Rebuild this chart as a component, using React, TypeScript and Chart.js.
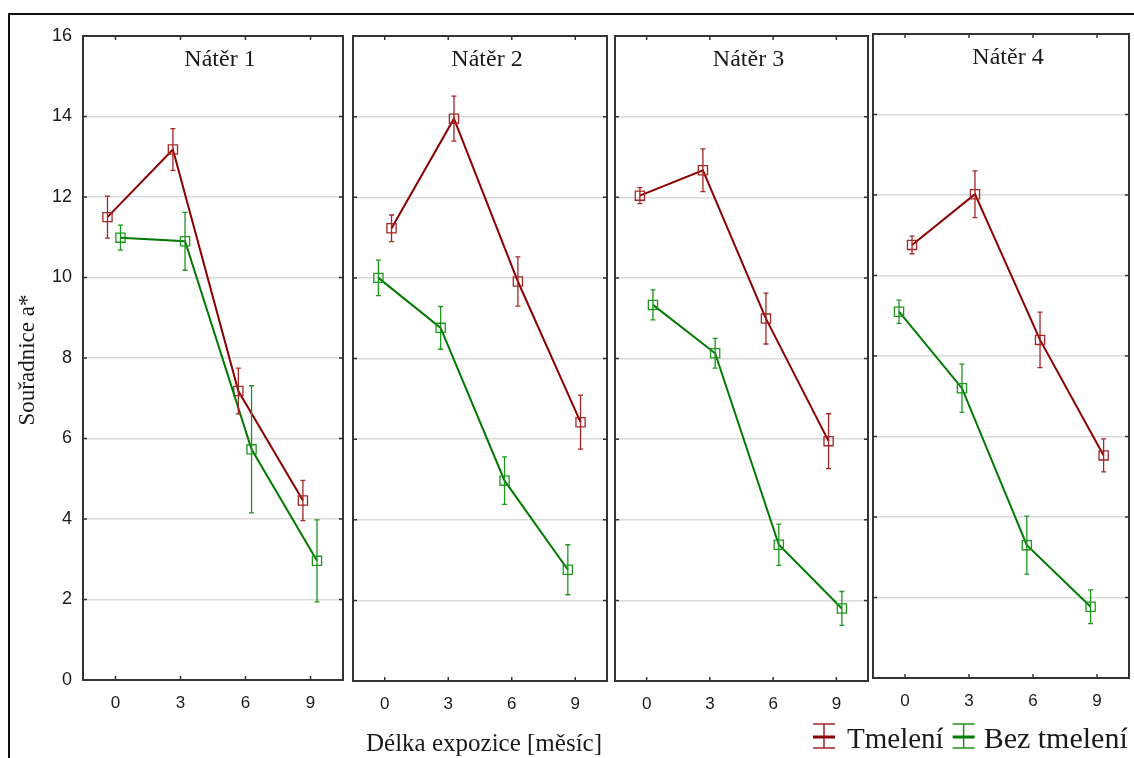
import React, { useEffect, useRef } from 'react';
import { Chart, registerables } from 'chart.js';

Chart.register(...registerables);

// ---------- data ----------
const months = [0, 3, 6, 9];
const yTickValues = [0, 2, 4, 6, 8, 10, 12, 14, 16];
const panelTitles = ['Nátěr 1', 'Nátěr 2', 'Nátěr 3', 'Nátěr 4'];
const seriesNames = ['Tmelení', 'Bez tmelení'];
const yAxisTitle = 'Souřadnice a*';
const xAxisTitle = 'Délka expozice [měsíc]';

// Nátěr 1
const tmelX1 = [-0.37, 2.65, 5.67, 8.65];
const tmelY1 = [11.5, 13.18, 7.18, 4.46];
const tmelErr1 = [0.52, 0.52, 0.57, 0.5];
const bezX1 = [0.23, 3.21, 6.28, 9.3];
const bezY1 = [10.99, 10.9, 5.73, 2.96];
const bezErr1 = [0.31, 0.72, 1.58, 1.02];

// Nátěr 2
const tmelX2 = [0.32, 3.27, 6.29, 9.25];
const tmelY2 = [11.23, 13.95, 9.91, 6.42];
const tmelErr2 = [0.33, 0.56, 0.61, 0.67];
const bezX2 = [-0.3, 2.64, 5.66, 8.65];
const bezY2 = [10.0, 8.76, 4.97, 2.76];
const bezErr2 = [0.44, 0.53, 0.59, 0.62];

// Nátěr 3
const tmelX3 = [-0.32, 2.67, 5.66, 8.63];
const tmelY3 = [12.04, 12.67, 8.99, 5.95];
const tmelErr3 = [0.2, 0.53, 0.63, 0.68];
const bezX3 = [0.3, 3.25, 6.27, 9.26];
const bezY3 = [9.33, 8.13, 3.38, 1.8];
const bezErr3 = [0.37, 0.37, 0.51, 0.42];

// Nátěr 4
const tmelX4 = [0.33, 3.28, 6.33, 9.31];
const tmelY4 = [10.76, 12.02, 8.4, 5.53];
const tmelErr4 = [0.22, 0.58, 0.69, 0.41];
const bezX4 = [-0.28, 2.67, 5.71, 8.7];
const bezY4 = [9.1, 7.2, 3.3, 1.77];
const bezErr4 = [0.29, 0.6, 0.72, 0.42];

const panels = [
  { tX: tmelX1, tY: tmelY1, tE: tmelErr1, bX: bezX1, bY: bezY1, bE: bezErr1 },
  { tX: tmelX2, tY: tmelY2, tE: tmelErr2, bX: bezX2, bY: bezY2, bE: bezErr2 },
  { tX: tmelX3, tY: tmelY3, tE: tmelErr3, bX: bezX3, bY: bezY3, bE: bezErr3 },
  { tX: tmelX4, tY: tmelY4, tE: tmelErr4, bX: bezX4, bY: bezY4, bE: bezErr4 },
];

// ---------- layout / style ----------
const W = 1134;
const H = 758;
const CW = W + 60; // canvas wider than the page, clipped by the container
const boxes = [
  { left: 83, right: 343, top: 36, bottom: 680 },
  { left: 353, right: 607, top: 36, bottom: 681 },
  { left: 615, right: 868, top: 36, bottom: 681 },
  { left: 873, right: 1129, top: 34, bottom: 678 },
];
const RED_LINE = '#8b0000';
const RED_MARK = '#a52626';
const GREEN_LINE = '#007a00';
const GREEN_MARK = '#1e961e';
const AXIS = '#333333';
const TEXT = '#1a1a1a';
const SERIF = '"Liberation Serif", "Times New Roman", serif';
const SANS = '"Liberation Sans", Arial, sans-serif';

const errorBarPlugin = {
  id: 'errorBars',
  afterDatasetsDraw(chart: any) {
    const ctx = chart.ctx;
    const yScale = chart.scales.y;
    chart.data.datasets.forEach((ds: any, di: number) => {
      const meta = chart.getDatasetMeta(di);
      ctx.save();
      ctx.strokeStyle = ds.errColor;
      ctx.lineWidth = 1.3;
      meta.data.forEach((pt: any, i: number) => {
        const v = ds.data[i].y;
        const e = ds.errors[i];
        const yTop = yScale.getPixelForValue(v + e);
        const yBot = yScale.getPixelForValue(v - e);
        const x = pt.x;
        ctx.beginPath();
        ctx.moveTo(x, yTop);
        ctx.lineTo(x, yBot);
        ctx.moveTo(x - 2.5, yTop);
        ctx.lineTo(x + 2.5, yTop);
        ctx.moveTo(x - 2.5, yBot);
        ctx.lineTo(x + 2.5, yBot);
        ctx.stroke();
      });
      ctx.restore();
    });
  },
};

const framePlugin = {
  id: 'panelFrame',
  afterDraw(chart: any, _args: any, opts: any) {
    const ctx = chart.ctx;
    const { left, right, top, bottom } = chart.chartArea;
    const xs = chart.scales.x;
    const ys = chart.scales.y;
    ctx.save();
    ctx.strokeStyle = AXIS;
    ctx.lineWidth = 2;
    ctx.strokeRect(left, top, right - left, bottom - top);
    ctx.lineWidth = 1.5;
    ctx.beginPath();
    ys.ticks.forEach((t: any) => {
      if (t.value <= ys.min || t.value >= ys.max) return;
      const y = ys.getPixelForValue(t.value);
      ctx.moveTo(left, y);
      ctx.lineTo(left + 4, y);
      ctx.moveTo(right, y);
      ctx.lineTo(right - 4, y);
    });
    xs.ticks.forEach((t: any) => {
      const x = xs.getPixelForValue(t.value);
      ctx.moveTo(x, bottom);
      ctx.lineTo(x, bottom - 4);
      ctx.moveTo(x, top);
      ctx.lineTo(x, top + 4);
    });
    ctx.stroke();
    // panel title
    ctx.fillStyle = TEXT;
    ctx.font = `24px ${SERIF}`;
    ctx.textAlign = 'center';
    ctx.textBaseline = 'middle';
    ctx.fillText(opts.title, (left + right) / 2 + 7, top + 24);

    if (opts.yTitle) {
      ctx.save();
      ctx.translate(28, 360);
      ctx.rotate(-Math.PI / 2);
      ctx.font = `23px ${SERIF}`;
      ctx.fillText(opts.yTitle, 0, 0);
      ctx.restore();
      ctx.font = `25px ${SERIF}`;
      ctx.fillText(xAxisTitle, 484, 744);
    }
    if (opts.legend) {
      const drawIcon = (cx: number, cMark: string, cLine: string) => {
        ctx.strokeStyle = cMark;
        ctx.lineWidth = 1.5;
        ctx.beginPath();
        ctx.moveTo(cx - 11, 724);
        ctx.lineTo(cx + 11, 724);
        ctx.moveTo(cx - 11, 748);
        ctx.lineTo(cx + 11, 748);
        ctx.moveTo(cx, 724);
        ctx.lineTo(cx, 748);
        ctx.stroke();
        ctx.strokeStyle = cLine;
        ctx.lineWidth = 3;
        ctx.beginPath();
        ctx.moveTo(cx - 11, 737);
        ctx.lineTo(cx + 11, 737);
        ctx.stroke();
      };
      ctx.font = `29px ${SERIF}`;
      ctx.textAlign = 'left';
      ctx.fillStyle = TEXT;
      let x = 813;
      drawIcon(x + 11, RED_MARK, RED_LINE);
      x += 34;
      ctx.fillText(seriesNames[0], x, 740);
      x += ctx.measureText(seriesNames[0]).width + 9;
      drawIcon(x + 11, GREEN_MARK, GREEN_LINE);
      x += 31;
      ctx.fillStyle = TEXT;
      ctx.font = `30px ${SERIF}`;
      ctx.fillText(seriesNames[1], x, 740);
    }
    ctx.restore();
  },
};

function buildConfig(i: number): any {
  const p = panels[i];
  const b = boxes[i];
  return {
    type: 'line',
    data: {
      datasets: [
        {
          label: seriesNames[1],
          data: p.bX.map((x, j) => ({ x, y: p.bY[j] })),
          errors: p.bE,
          errColor: GREEN_MARK,
          borderColor: GREEN_LINE,
          borderWidth: 2,
          pointStyle: 'rect',
          pointRadius: 6.5,
          pointBorderWidth: 1.3,
          pointBorderColor: GREEN_MARK,
          pointBackgroundColor: 'rgba(0,0,0,0)',
          tension: 0,
        },
        {
          label: seriesNames[0],
          data: p.tX.map((x, j) => ({ x, y: p.tY[j] })),
          errors: p.tE,
          errColor: RED_MARK,
          borderColor: RED_LINE,
          borderWidth: 2,
          pointStyle: 'rect',
          pointRadius: 6.5,
          pointBorderWidth: 1.3,
          pointBorderColor: RED_MARK,
          pointBackgroundColor: 'rgba(0,0,0,0)',
          tension: 0,
        },
      ],
    },
    options: {
      responsive: false,
      animation: false,
      devicePixelRatio: 1,
      events: [],
      layout: { padding: { left: 0, top: b.top, right: CW - b.right, bottom: 0 } },
      plugins: {
        legend: { display: false },
        tooltip: { enabled: false },
        panelFrame: {
          title: panelTitles[i],
          yTitle: i === 0 ? yAxisTitle : null,
          legend: i === 3,
        },
      },
      scales: {
        x: {
          type: 'linear',
          min: -1.5,
          max: 10.5,
          afterBuildTicks: (s: any) => {
            s.ticks = months.map((v) => ({ value: v }));
          },
          afterFit: (s: any) => {
            s.height = H - b.bottom;
          },
          ticks: {
            color: TEXT,
            font: { family: SANS, size: 17 },
            padding: 13,
            maxRotation: 0,
            autoSkip: false,
          },
          grid: { display: false, drawTicks: false },
          border: { display: true, color: AXIS, width: 2 },
        },
        y: {
          type: 'linear',
          min: 0,
          max: 16,
          afterBuildTicks: (s: any) => {
            s.ticks = yTickValues.map((v) => ({ value: v }));
          },
          afterFit: (s: any) => {
            s.width = b.left;
          },
          ticks: {
            display: i === 0,
            color: TEXT,
            font: { family: SANS, size: 18 },
            padding: 11,
          },
          grid: { color: '#dadada', lineWidth: 1.5, drawTicks: false },
          border: { display: true, color: AXIS, width: 2 },
        },
      },
    },
    plugins: [errorBarPlugin, framePlugin],
  };
}

export default function App() {
  const refs = [
    useRef<HTMLCanvasElement>(null),
    useRef<HTMLCanvasElement>(null),
    useRef<HTMLCanvasElement>(null),
    useRef<HTMLCanvasElement>(null),
  ];

  useEffect(() => {
    const charts = refs.map((r, i) => new Chart(r.current as HTMLCanvasElement, buildConfig(i)));
    return () => charts.forEach((c) => c.destroy());
  }, []);

  return (
    <div style={{ position: 'absolute', left: 0, top: 0, width: W, height: H, overflow: 'hidden', background: '#fff' }}>
      <div
        style={{
          position: 'absolute',
          left: 8,
          top: 13,
          width: W,
          height: H,
          borderTop: '2px solid #111',
          borderLeft: '2px solid #111',
        }}
      />
      {refs.map((r, i) => (
        <canvas key={i} ref={r} width={CW} height={H} style={{ position: 'absolute', left: 0, top: 0 }} />
      ))}
    </div>
  );
}
